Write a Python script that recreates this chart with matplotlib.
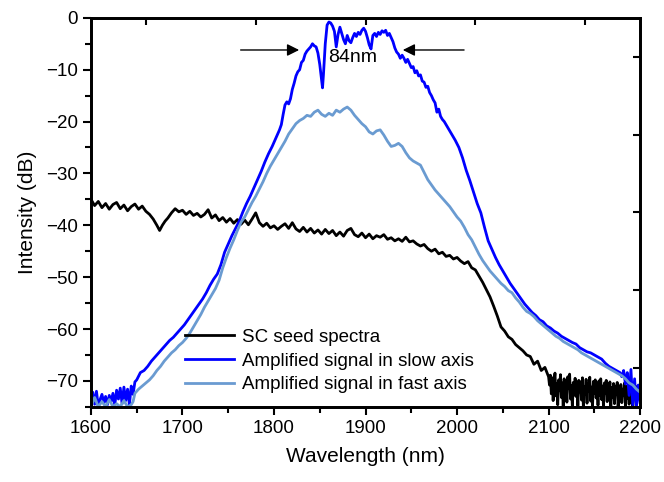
import matplotlib
matplotlib.use("Agg")
import matplotlib.pyplot as plt
from matplotlib.ticker import MultipleLocator, NullFormatter

plt.rcParams['font.family'] = ['Liberation Sans', 'DejaVu Sans']

# =========================
# DATA
# =========================
seed_wl = [1600, 1604, 1608, 1612, 1616, 1620, 1624, 1628, 1632, 1636, 1640, 1644, 1648, 1652, 1656,
           1660, 1664, 1668, 1672, 1675, 1678, 1681, 1684, 1688, 1692, 1696, 1700, 1704, 1708, 1712,
           1716, 1720, 1724, 1728, 1732, 1736, 1740, 1744, 1748, 1752, 1756, 1760, 1764, 1768, 1772,
           1776, 1780, 1784, 1788, 1792, 1796, 1800, 1804, 1808, 1812, 1816, 1820, 1824, 1828, 1832,
           1836, 1840, 1844, 1848, 1852, 1856, 1860, 1864, 1868, 1872, 1876, 1880, 1884, 1888, 1892,
           1896, 1900, 1904, 1908, 1912, 1916, 1920, 1924, 1928, 1932, 1936, 1940, 1944, 1948, 1952,
           1956, 1960, 1964, 1968, 1972, 1976, 1980, 1984, 1988, 1992, 1996, 2000, 2004, 2008, 2012,
           2016, 2020, 2024, 2028, 2032, 2036, 2040, 2044, 2048, 2052, 2056, 2060, 2064, 2068, 2072,
           2076, 2080, 2084, 2088, 2092, 2096, 2100,
           2101, 2102, 2103, 2104, 2105, 2106, 2107, 2108, 2109, 2110, 2111, 2112, 2113, 2114, 2115,
           2116, 2117, 2118, 2119, 2120, 2121, 2122, 2123, 2124, 2125, 2126, 2127, 2128, 2129, 2130,
           2131, 2132, 2133, 2134, 2135, 2136, 2137, 2138, 2139, 2140, 2141, 2142, 2143, 2144, 2145,
           2146, 2147, 2148, 2149, 2150, 2151, 2152, 2153, 2154, 2155, 2156, 2157, 2158, 2159, 2160,
           2161, 2162, 2163, 2164, 2165, 2166, 2167, 2168, 2169, 2170, 2171, 2172, 2173, 2174, 2175,
           2176, 2177, 2178, 2179, 2180, 2181, 2182, 2183, 2184, 2185, 2186, 2187, 2188, 2189, 2190,
           2191, 2192, 2193, 2194, 2195, 2196, 2197, 2198, 2199, 2200]
seed_db = [-35.0, -36.2, -35.4, -36.6, -35.8, -36.9, -36.0, -35.6, -36.8, -36.1, -37.2, -36.4, -35.9, -36.9, -36.3,
           -37.3, -37.9, -38.8, -40.0, -41.0, -40.0, -39.2, -38.6, -37.6, -36.8, -37.4, -37.1, -37.9, -37.3, -38.1,
           -37.7, -38.4, -37.9, -37.0, -38.6, -38.0, -39.1, -38.5, -39.4, -38.7, -39.6, -38.9, -39.8, -39.0, -39.9,
           -38.8, -37.6, -39.5, -40.2, -39.6, -40.5, -40.1, -40.8, -40.2, -39.7, -40.6, -39.5, -40.7, -41.2, -40.4,
           -41.3, -40.6, -41.5, -40.9, -41.7, -40.8, -41.6, -41.0, -42.0, -41.3, -42.1, -41.0, -40.6, -41.8, -42.2,
           -41.5, -42.4, -41.7, -42.6, -42.0, -42.3, -41.8, -42.7, -42.4, -43.0, -42.6, -43.1, -42.3, -43.2, -43.0,
           -43.6, -44.0, -43.7, -44.5, -45.0, -44.6, -45.5, -45.2, -46.0, -45.8, -46.5, -46.2, -46.9, -47.4, -47.0,
           -48.2, -48.6, -49.8, -51.0, -52.4, -53.8, -55.6, -57.5, -59.6, -60.4, -61.5, -62.0, -63.0, -63.6, -64.2,
           -65.0, -65.3, -66.8, -66.2, -68.0, -67.4, -69.2,
           -70.8, -68.9, -72.5, -69.4, -73.8, -70.1, -68.5, -72.9, -70.6, -74.6, -69.8, -71.9, -68.8, -73.2, -70.4,
           -75.0, -69.6, -72.2, -70.0, -74.1, -69.2, -71.5, -68.7, -73.5, -70.9, -75.0, -70.3, -72.7, -69.5, -73.0,
           -70.7, -74.8, -69.9, -72.1, -70.2, -73.7, -69.4, -75.0, -71.1, -72.6, -69.7, -74.3, -70.5, -72.0, -69.3,
           -73.9, -71.2, -75.0, -70.1, -72.4, -69.8, -73.3, -70.6, -74.7, -70.0, -72.8, -69.6, -73.6, -71.0, -75.0,
           -70.4, -72.3, -69.9, -74.0, -70.8, -72.9, -70.2, -75.0, -71.3, -73.1, -70.5, -74.4, -71.0, -72.5, -70.3,
           -75.0, -71.4, -73.0, -70.7, -74.2, -71.6, -72.7, -70.4, -75.0, -71.1, -73.4, -70.9, -74.5, -71.5, -72.6,
           -70.6, -75.0, -71.8, -73.2, -71.0, -74.6, -71.4, -72.8, -71.2, -73.5]

slow_wl = [1600, 1602, 1604, 1606, 1608, 1610, 1612, 1614, 1616, 1618, 1620, 1622, 1624, 1626, 1628,
           1630, 1632, 1634, 1636, 1638, 1640, 1642, 1644, 1646, 1648, 1650, 1654, 1658, 1662, 1666,
           1670, 1674, 1678, 1682, 1686, 1690, 1694, 1698, 1702, 1706, 1710, 1714, 1718, 1722, 1726,
           1730, 1734, 1738, 1742, 1746, 1750, 1754, 1758, 1762, 1766, 1770, 1774, 1778, 1782, 1786,
           1790, 1794, 1798, 1802, 1806, 1808, 1810, 1812, 1814, 1816, 1818, 1820, 1822, 1824, 1826,
           1828, 1830, 1832, 1834, 1836, 1838, 1840, 1842, 1844, 1846, 1848, 1850, 1852, 1853, 1854,
           1856, 1858, 1860, 1862, 1864, 1866, 1868, 1870, 1872, 1874, 1876, 1878, 1880, 1882, 1884,
           1886, 1888, 1890, 1892, 1894, 1896, 1898, 1900, 1902, 1904, 1906, 1908, 1910, 1912, 1914,
           1916, 1918, 1920, 1922, 1924, 1926, 1928, 1930, 1932, 1934, 1936, 1938, 1940, 1942, 1944,
           1946, 1948, 1950, 1952, 1954, 1956, 1958, 1960, 1962, 1964, 1966, 1968, 1970, 1972, 1974,
           1976, 1978, 1980, 1982, 1984, 1986, 1988, 1990, 1994, 1998, 2002, 2006, 2010, 2014, 2018,
           2022, 2026, 2030, 2034, 2038, 2042, 2046, 2050, 2054, 2058, 2062, 2066, 2070, 2074, 2078,
           2082, 2086, 2090, 2094, 2098, 2102, 2106, 2110, 2114, 2118, 2122, 2126, 2130, 2134, 2138,
           2142, 2146, 2150, 2154, 2158, 2162, 2166, 2170, 2174, 2178, 2180, 2182, 2184, 2186, 2188,
           2190, 2192, 2194, 2196, 2198, 2200]
slow_db = [-74.8, -72.2, -74.5, -72.0, -74.9, -73.6, -72.6, -74.2, -73.0, -74.6, -72.8, -74.0, -72.4, -74.7, -71.8,
           -73.5, -71.4, -74.4, -71.2, -73.8, -71.6, -74.6, -71.0, -72.6, -70.2, -69.8, -68.4, -68.0, -67.2, -66.2,
           -65.4, -64.6, -63.8, -63.0, -62.2, -61.6, -60.8, -60.0, -59.2, -58.2, -57.2, -56.2, -55.2, -54.2, -53.0,
           -51.6, -50.4, -49.4, -47.6, -45.2, -43.6, -42.0, -40.6, -39.2, -37.4, -35.8, -34.4, -32.8, -31.2, -29.6,
           -27.8, -26.2, -24.8, -23.2, -21.6, -20.6, -18.6, -16.8, -16.2, -16.6, -15.6, -13.8, -12.6, -11.2, -10.4,
           -10.0, -8.6, -8.2, -7.0, -6.4, -6.0, -5.6, -5.0, -5.4, -5.6, -6.8, -9.0, -12.0, -13.5, -11.0,
           -5.0, -1.4, -0.8, -1.0, -1.6, -2.6, -5.6, -3.2, -1.8, -3.0, -4.2, -5.0, -3.4, -4.4, -4.8,
           -3.8, -3.0, -3.6, -2.8, -3.2, -2.4, -2.0, -2.6, -3.8, -5.2, -6.0, -3.4, -3.0, -3.6, -2.8,
           -3.2, -2.5, -2.8, -2.4, -3.4, -3.0, -3.8, -4.6, -5.8, -6.6, -7.0, -7.8, -7.2, -7.8, -8.6,
           -8.0, -8.8, -9.6, -9.4, -10.6, -10.2, -11.2, -11.0, -12.2, -12.4, -13.4, -13.2, -14.4, -15.0, -15.8,
           -16.4, -18.2, -17.6, -19.0, -19.6, -20.0, -20.6, -21.2, -22.4, -23.6, -25.0, -27.0, -29.4, -31.4, -33.6,
           -35.8, -37.6, -40.4, -43.0, -44.6, -46.2, -47.6, -48.8, -50.0, -51.2, -52.2, -53.2, -54.2, -55.2, -56.0,
           -56.8, -57.4, -58.2, -58.6, -59.4, -59.8, -60.4, -60.8, -61.4, -61.8, -62.2, -62.6, -62.9, -63.6, -64.0,
           -64.4, -64.6, -65.0, -65.4, -65.8, -66.6, -67.2, -67.6, -68.0, -68.4, -69.2, -68.0, -70.6, -68.4, -72.8,
           -67.8, -74.6, -69.6, -75.0, -70.8, -74.2]

fast_wl = [1600, 1604, 1608, 1612, 1616, 1620, 1624, 1628, 1632, 1636, 1640, 1644, 1646, 1648, 1652,
           1656, 1660, 1664, 1668, 1672, 1676, 1680, 1684, 1688, 1692, 1696, 1700, 1704, 1708, 1712,
           1716, 1720, 1724, 1728, 1732, 1736, 1740, 1744, 1748, 1752, 1756, 1760, 1764, 1768, 1772,
           1776, 1780, 1784, 1788, 1792, 1796, 1800, 1804, 1808, 1812, 1816, 1820, 1824, 1828, 1832,
           1836, 1840, 1844, 1848, 1852, 1856, 1860, 1864, 1868, 1872, 1876, 1880, 1884, 1888, 1892,
           1896, 1900, 1904, 1908, 1912, 1916, 1920, 1924, 1928, 1932, 1936, 1940, 1944, 1948, 1952,
           1956, 1960, 1964, 1968, 1972, 1976, 1980, 1984, 1988, 1992, 1996, 2000, 2004, 2008, 2012,
           2016, 2020, 2024, 2028, 2032, 2036, 2040, 2044, 2048, 2052, 2056, 2060, 2064, 2068, 2072,
           2076, 2080, 2084, 2088, 2092, 2096, 2100, 2104, 2108, 2112, 2116, 2120, 2124, 2128, 2132,
           2136, 2140, 2144, 2148, 2152, 2156, 2160, 2164, 2168, 2172, 2176, 2180, 2184, 2188, 2192,
           2196, 2200]
fast_db = [-75.0, -73.2, -75.0, -74.0, -75.0, -73.6, -75.0, -74.4, -75.0, -73.8, -75.0, -74.6, -74.0, -72.4, -71.6,
           -71.0, -70.4, -69.8, -69.0, -68.0, -67.2, -66.2, -65.4, -64.6, -64.0, -63.2, -62.6, -61.8, -60.8, -59.6,
           -58.4, -57.2, -55.8, -54.6, -53.4, -52.2, -50.6, -48.2, -46.2, -44.4, -42.8, -41.0, -39.4, -38.4, -37.0,
           -35.6, -34.4, -33.0, -31.6, -30.0, -28.6, -27.4, -26.2, -25.0, -23.8, -22.4, -21.4, -20.4, -19.8, -19.4,
           -18.8, -19.0, -18.2, -17.8, -18.6, -19.0, -18.4, -18.8, -17.8, -18.2, -17.6, -17.2, -17.8, -18.8, -19.6,
           -20.4, -21.0, -22.0, -22.4, -21.8, -21.6, -22.6, -23.8, -24.8, -24.6, -24.2, -24.8, -26.0, -27.0, -27.6,
           -28.0, -28.4, -29.8, -31.2, -32.2, -33.2, -34.0, -34.8, -35.6, -36.4, -37.4, -38.4, -39.2, -40.4, -41.8,
           -42.8, -44.2, -45.6, -46.8, -47.8, -48.8, -49.6, -50.4, -51.2, -51.8, -52.6, -53.0, -54.0, -54.8, -55.8,
           -56.6, -57.0, -57.6, -58.4, -59.0, -59.6, -60.2, -60.8, -61.4, -61.8, -62.4, -62.8, -63.2, -63.6, -64.0,
           -64.6, -65.0, -65.4, -65.8, -66.2, -66.6, -67.0, -67.4, -67.8, -68.2, -68.6, -69.0, -69.6, -70.4, -70.8,
           -71.6, -72.2]

labels = ["SC seed spectra", "Amplified signal in slow axis", "Amplified signal in fast axis"]
colors = ["black", "#0000FF", "#6A9BD1"]

bw_left, bw_right, bw_level = 1830.5, 1937.7, -6.2
bw_text = "84nm"

top_ticks = [1660, 1780, 1900, 2020, 2140]
right_ticks = [-7.5, -22.5, -37.5, -52.5, -67.5]

# =========================
# PLOT
# =========================
fig = plt.figure(figsize=(6.64, 4.82), dpi=100)
ax = fig.add_axes([0.137, 0.156, 0.827, 0.807])

ax.plot(seed_wl, seed_db, color=colors[0], lw=2, label=labels[0])
ax.plot(slow_wl, slow_db, color=colors[1], lw=2, label=labels[1])
ax.plot(fast_wl, fast_db, color=colors[2], lw=2, label=labels[2])

ax.set_xlim(1600, 2200)
ax.set_ylim(-75, 0)
ax.xaxis.set_major_locator(MultipleLocator(100))
ax.xaxis.set_minor_locator(MultipleLocator(50))
ax.yaxis.set_major_locator(MultipleLocator(10))
ax.yaxis.set_minor_locator(MultipleLocator(5))
ax.tick_params(which='major', direction='out', length=6, width=1.5, labelsize=13.5)
ax.tick_params(which='minor', direction='out', length=4, width=1.5)
for s in ax.spines.values():
    s.set_linewidth(1.8)

ax.set_xlabel("Wavelength (nm)", fontsize=15, labelpad=7)
ax.set_ylabel("Intensity (dB)", fontsize=15, labelpad=6)

# extra unlabeled ticks on top / right frame
axt = ax.twiny()
axt.set_xlim(ax.get_xlim())
axt.set_xticks(top_ticks)
axt.xaxis.set_major_formatter(NullFormatter())
axt.tick_params(direction='in', length=5, width=1.5)
axr = ax.twinx()
axr.set_ylim(ax.get_ylim())
axr.set_yticks(right_ticks)
axr.yaxis.set_major_formatter(NullFormatter())
axr.tick_params(direction='in', length=5, width=1.5)
for a in (axt, axr):
    for s in a.spines.values():
        s.set_linewidth(1.8)

# bandwidth arrows
arrow = dict(arrowstyle='-|>', color='black', lw=1.0, mutation_scale=18)
ax.annotate("", xy=(bw_left, bw_level), xytext=(bw_left - 70, bw_level), arrowprops=arrow)
ax.annotate("", xy=(bw_right, bw_level), xytext=(bw_right + 73, bw_level), arrowprops=arrow)
ax.text((bw_left + bw_right) / 2 + 2, bw_level - 1.5, bw_text, fontsize=14, ha='center', va='center')

ax.legend(loc='lower left', bbox_to_anchor=(0.172, 0.035), frameon=False, fontsize=13.5,
          handlelength=2.6, handletextpad=0.4, labelspacing=0.35, borderpad=0, borderaxespad=0)

fig.savefig("out.png", dpi=100)
